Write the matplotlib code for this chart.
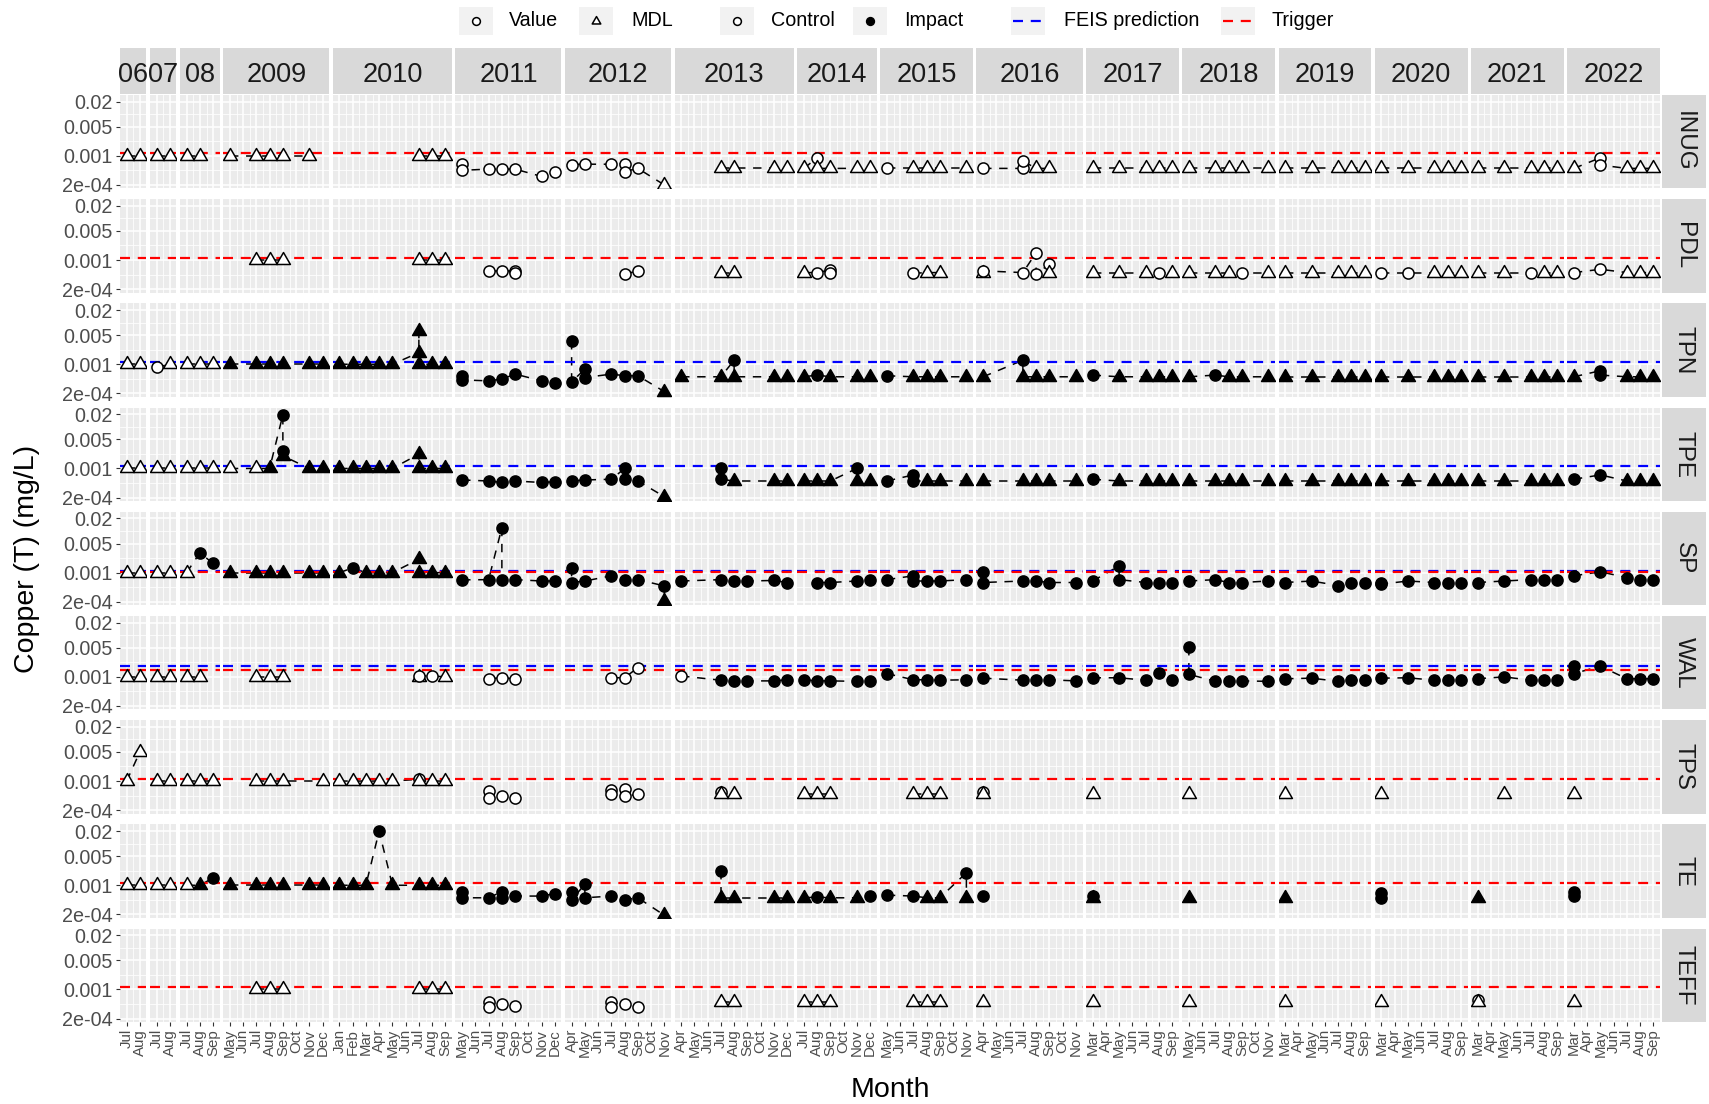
import matplotlib
matplotlib.use("Agg")
import matplotlib.pyplot as plt
from matplotlib.path import Path
from matplotlib.patches import Rectangle
from matplotlib.ticker import FixedLocator, NullFormatter
import numpy as np

plt.rcParams['font.family'] = ['Liberation Sans', 'DejaVu Sans']

# ---------------- data ----------------
YEARS = ["06", "07", "08", "2009", "2010", "2011", "2012", "2013", "2014",
         "2015", "2016", "2017", "2018", "2019", "2020", "2021", "2022"]
YEAR_MONTHS = [
    ["Jul", "Aug"], ["Jul", "Aug"], ["Jul", "Aug", "Sep"],
    ["May", "Jun", "Jul", "Aug", "Sep", "Oct", "Nov", "Dec"],
    ["Jan", "Feb", "Mar", "Apr", "May", "Jun", "Jul", "Aug", "Sep"],
    ["May", "Jun", "Jul", "Aug", "Sep", "Oct", "Nov", "Dec"],
    ["Apr", "May", "Jun", "Jul", "Aug", "Sep", "Oct", "Nov"],
    ["Apr", "May", "Jun", "Jul", "Aug", "Sep", "Oct", "Nov", "Dec"],
    ["Jul", "Aug", "Sep", "Oct", "Nov", "Dec"],
    ["May", "Jun", "Jul", "Aug", "Sep", "Oct", "Nov"],
    ["Apr", "May", "Jun", "Jul", "Aug", "Sep", "Oct", "Nov"],
    ["Mar", "Apr", "May", "Jun", "Jul", "Aug", "Sep"],
    ["May", "Jun", "Jul", "Aug", "Sep", "Oct", "Nov"],
    ["Mar", "Apr", "May", "Jun", "Jul", "Aug", "Sep"],
    ["Mar", "Apr", "May", "Jun", "Jul", "Aug", "Sep"],
    ["Mar", "Apr", "May", "Jun", "Jul", "Aug", "Sep"],
    ["Mar", "Apr", "May", "Jun", "Jul", "Aug", "Sep"],
]
STATIONS = ["INUG", "PDL", "TPN", "TPE", "SP", "WAL", "TPS", "TE", "TEFF"]
Y_TICKS = [2e-4, 1e-3, 5e-3, 2e-2]
Y_TICK_LABELS = ["2e-04", "0.001", "0.005", "0.02"]
FEIS = {"TPN": 0.00113, "TPE": 0.00113, "SP": 0.00112, "WAL": 0.00184}
TRIGGER = {"INUG": 0.00115, "PDL": 0.00115, "SP": 0.00104, "WAL": 0.00145,
           "TPS": 0.00115, "TE": 0.00115, "TEFF": 0.00115}
# first sample (year, month) from which a station is an Impact site
IMPACT_FROM = {"TPN": ("2009", "May"), "TPE": ("2009", "Aug"), "SP": ("08", "Aug"),
               "WAL": ("2013", "Jul"), "TE": ("08", "Aug")}

INUG = [
    ("06", "Jul", 1e-3, "M"), ("06", "Aug", 1e-3, "M"),
    ("07", "Jul", 1e-3, "M"), ("07", "Aug", 1e-3, "M"),
    ("08", "Jul", 1e-3, "M"), ("08", "Aug", 1e-3, "M"),
    ("2009", "May", 1e-3, "M"), ("2009", "Jul", 1e-3, "M"), ("2009", "Aug", 1e-3, "M"), ("2009", "Sep", 1e-3, "M"), ("2009", "Nov", 1e-3, "M"),
    ("2010", "Jul", 1e-3, "M"), ("2010", "Aug", 1e-3, "M"), ("2010", "Sep", 1e-3, "M"),
    ("2011", "May", 6.5e-4, "V"), ("2011", "May", 4.5e-4, "V"), ("2011", "Jul", 4.8e-4, "V"), ("2011", "Aug", 4.8e-4, "V"), ("2011", "Sep", 4.8e-4, "V"), ("2011", "Nov", 3.2e-4, "V"), ("2011", "Dec", 4.0e-4, "V"),
    ("2012", "Apr", 6.2e-4, "V"), ("2012", "May", 6.3e-4, "V"), ("2012", "Jul", 6.3e-4, "V"), ("2012", "Aug", 6.5e-4, "V"), ("2012", "Aug", 4.2e-4, "V"), ("2012", "Sep", 5.0e-4, "V"), ("2012", "Nov", 2.0e-4, "M"),
    ("2013", "Jul", 5e-4, "M"), ("2013", "Aug", 5e-4, "M"), ("2013", "Nov", 5e-4, "M"), ("2013", "Dec", 5e-4, "M"),
    ("2014", "Jul", 5e-4, "M"), ("2014", "Aug", 9e-4, "V"), ("2014", "Aug", 5e-4, "M"), ("2014", "Sep", 5e-4, "M"), ("2014", "Nov", 5e-4, "M"), ("2014", "Dec", 5e-4, "M"),
    ("2015", "May", 5e-4, "V"), ("2015", "Jul", 5e-4, "M"), ("2015", "Aug", 5e-4, "M"), ("2015", "Sep", 5e-4, "M"), ("2015", "Nov", 5e-4, "M"),
    ("2016", "Apr", 5e-4, "V"), ("2016", "Jul", 5e-4, "V"), ("2016", "Jul", 7.5e-4, "V"), ("2016", "Aug", 5e-4, "M"), ("2016", "Sep", 5e-4, "M"),
    ("2017", "Mar", 5e-4, "M"), ("2017", "May", 5e-4, "M"), ("2017", "Jul", 5e-4, "M"), ("2017", "Aug", 5e-4, "M"), ("2017", "Sep", 5e-4, "M"),
    ("2018", "May", 5e-4, "M"), ("2018", "Jul", 5e-4, "M"), ("2018", "Aug", 5e-4, "M"), ("2018", "Sep", 5e-4, "M"), ("2018", "Nov", 5e-4, "M"),
    ("2019", "Mar", 5e-4, "M"), ("2019", "May", 5e-4, "M"), ("2019", "Jul", 5e-4, "M"), ("2019", "Aug", 5e-4, "M"), ("2019", "Sep", 5e-4, "M"),
    ("2020", "Mar", 5e-4, "M"), ("2020", "May", 5e-4, "M"), ("2020", "Jul", 5e-4, "M"), ("2020", "Aug", 5e-4, "M"), ("2020", "Sep", 5e-4, "M"),
    ("2021", "Mar", 5e-4, "M"), ("2021", "May", 5e-4, "M"), ("2021", "Jul", 5e-4, "M"), ("2021", "Aug", 5e-4, "M"), ("2021", "Sep", 5e-4, "M"),
    ("2022", "Mar", 5e-4, "M"), ("2022", "May", 9e-4, "V"), ("2022", "May", 6e-4, "V"), ("2022", "Jul", 5e-4, "M"), ("2022", "Aug", 5e-4, "M"), ("2022", "Sep", 5e-4, "M"),
]

PDL = [
    ("2009", "Jul", 1e-3, "M"), ("2009", "Aug", 1e-3, "M"), ("2009", "Sep", 1e-3, "M"),
    ("2010", "Jul", 1e-3, "M"), ("2010", "Aug", 1e-3, "M"), ("2010", "Sep", 1e-3, "M"),
    ("2011", "Jul", 5.5e-4, "V"), ("2011", "Aug", 5.5e-4, "V"), ("2011", "Sep", 5.5e-4, "V"), ("2011", "Sep", 4.8e-4, "V"),
    ("2012", "Aug", 4.6e-4, "V"), ("2012", "Sep", 5.5e-4, "V"),
    ("2013", "Jul", 5e-4, "M"), ("2013", "Aug", 5e-4, "M"),
    ("2014", "Jul", 5e-4, "M"), ("2014", "Aug", 5e-4, "V"), ("2014", "Sep", 5.8e-4, "V"), ("2014", "Sep", 5.0e-4, "V"),
    ("2015", "Jul", 4.8e-4, "V"), ("2015", "Aug", 5e-4, "M"), ("2015", "Sep", 5e-4, "M"),
    ("2016", "Apr", 5e-4, "M"), ("2016", "Apr", 5.5e-4, "V"), ("2016", "Jul", 5e-4, "V"), ("2016", "Aug", 1.5e-3, "V"), ("2016", "Aug", 4.6e-4, "V"), ("2016", "Sep", 8e-4, "V"), ("2016", "Sep", 5e-4, "M"),
    ("2017", "Mar", 5e-4, "M"), ("2017", "May", 5e-4, "M"), ("2017", "Jul", 5e-4, "M"), ("2017", "Aug", 5e-4, "V"), ("2017", "Sep", 5e-4, "M"),
    ("2018", "May", 5e-4, "M"), ("2018", "Jul", 5e-4, "M"), ("2018", "Aug", 5e-4, "M"), ("2018", "Sep", 5e-4, "V"), ("2018", "Nov", 5e-4, "M"),
    ("2019", "Mar", 5e-4, "M"), ("2019", "May", 5e-4, "M"), ("2019", "Jul", 5e-4, "M"), ("2019", "Aug", 5e-4, "M"), ("2019", "Sep", 5e-4, "M"),
    ("2020", "Mar", 5e-4, "V"), ("2020", "May", 5e-4, "V"), ("2020", "Jul", 5e-4, "M"), ("2020", "Aug", 5e-4, "M"), ("2020", "Sep", 5e-4, "M"),
    ("2021", "Mar", 5e-4, "M"), ("2021", "May", 5e-4, "M"), ("2021", "Jul", 5e-4, "V"), ("2021", "Aug", 5e-4, "M"), ("2021", "Sep", 5e-4, "M"),
    ("2022", "Mar", 5e-4, "V"), ("2022", "May", 6e-4, "V"), ("2022", "Jul", 5e-4, "M"), ("2022", "Aug", 5e-4, "M"), ("2022", "Sep", 5e-4, "M"),
]

TPN = [
    ("06", "Jul", 1e-3, "M"), ("06", "Aug", 1e-3, "M"),
    ("07", "Jul", 8.5e-4, "V"), ("07", "Aug", 1e-3, "M"),
    ("08", "Jul", 1e-3, "M"), ("08", "Aug", 1e-3, "M"), ("08", "Sep", 1e-3, "M"),
    ("2009", "May", 1e-3, "M"), ("2009", "Jul", 1e-3, "M"), ("2009", "Aug", 1e-3, "M"), ("2009", "Sep", 1e-3, "M"), ("2009", "Nov", 1e-3, "M"), ("2009", "Dec", 1e-3, "M"),
    ("2010", "Jan", 1e-3, "M"), ("2010", "Feb", 1e-3, "M"), ("2010", "Mar", 1e-3, "M"), ("2010", "Apr", 1e-3, "M"), ("2010", "May", 1e-3, "M"), ("2010", "Jul", 1.9e-3, "M"), ("2010", "Jul", 6.3e-3, "M"), ("2010", "Jul", 1e-3, "M"), ("2010", "Aug", 1e-3, "M"), ("2010", "Sep", 1e-3, "M"),
    ("2011", "May", 5.3e-4, "V"), ("2011", "May", 4.2e-4, "V"), ("2011", "Jul", 4.0e-4, "V"), ("2011", "Aug", 4.4e-4, "V"), ("2011", "Sep", 5.8e-4, "V"), ("2011", "Nov", 4.0e-4, "V"), ("2011", "Dec", 3.5e-4, "V"),
    ("2012", "Apr", 3.6e-3, "V"), ("2012", "Apr", 3.8e-4, "V"), ("2012", "May", 7.6e-4, "V"), ("2012", "May", 4.8e-4, "V"), ("2012", "Jul", 5.8e-4, "V"), ("2012", "Aug", 5.3e-4, "V"), ("2012", "Sep", 5.3e-4, "V"), ("2012", "Nov", 2.2e-4, "M"),
    ("2013", "Apr", 5e-4, "M"), ("2013", "Jul", 5e-4, "M"), ("2013", "Aug", 1.25e-3, "V"), ("2013", "Aug", 5e-4, "M"), ("2013", "Nov", 5e-4, "M"), ("2013", "Dec", 5e-4, "M"),
    ("2014", "Jul", 5e-4, "M"), ("2014", "Aug", 5.5e-4, "V"), ("2014", "Sep", 5e-4, "M"), ("2014", "Nov", 5e-4, "M"), ("2014", "Dec", 5e-4, "M"),
    ("2015", "May", 5.3e-4, "V"), ("2015", "Jul", 5e-4, "M"), ("2015", "Aug", 5e-4, "M"), ("2015", "Sep", 5e-4, "M"), ("2015", "Nov", 5e-4, "M"),
    ("2016", "Apr", 5e-4, "M"), ("2016", "Jul", 1.25e-3, "V"), ("2016", "Jul", 5e-4, "M"), ("2016", "Aug", 5e-4, "M"), ("2016", "Sep", 5e-4, "M"), ("2016", "Nov", 5e-4, "M"),
    ("2017", "Mar", 5.5e-4, "V"), ("2017", "May", 5e-4, "M"), ("2017", "Jul", 5e-4, "M"), ("2017", "Aug", 5e-4, "M"), ("2017", "Sep", 5e-4, "M"),
    ("2018", "May", 5e-4, "M"), ("2018", "Jul", 5.5e-4, "V"), ("2018", "Aug", 5e-4, "M"), ("2018", "Sep", 5e-4, "M"), ("2018", "Nov", 5e-4, "M"),
    ("2019", "Mar", 5e-4, "M"), ("2019", "May", 5e-4, "M"), ("2019", "Jul", 5e-4, "M"), ("2019", "Aug", 5e-4, "M"), ("2019", "Sep", 5e-4, "M"),
    ("2020", "Mar", 5e-4, "M"), ("2020", "May", 5e-4, "M"), ("2020", "Jul", 5e-4, "M"), ("2020", "Aug", 5e-4, "M"), ("2020", "Sep", 5e-4, "M"),
    ("2021", "Mar", 5e-4, "M"), ("2021", "May", 5e-4, "M"), ("2021", "Jul", 5e-4, "M"), ("2021", "Aug", 5e-4, "M"), ("2021", "Sep", 5e-4, "M"),
    ("2022", "Mar", 5e-4, "M"), ("2022", "May", 7e-4, "V"), ("2022", "May", 5.5e-4, "V"), ("2022", "Jul", 5e-4, "M"), ("2022", "Aug", 5e-4, "M"), ("2022", "Sep", 5e-4, "M"),
]

TPE = [
    ("06", "Jul", 1e-3, "M"), ("06", "Aug", 1e-3, "M"),
    ("07", "Jul", 1e-3, "M"), ("07", "Aug", 1e-3, "M"),
    ("08", "Jul", 1e-3, "M"), ("08", "Aug", 1e-3, "M"), ("08", "Sep", 1e-3, "M"),
    ("2009", "May", 1e-3, "M"), ("2009", "Jul", 1e-3, "M"), ("2009", "Aug", 1e-3, "M"), ("2009", "Sep", 1.94e-2, "V"), ("2009", "Sep", 2.6e-3, "V"), ("2009", "Sep", 2.0e-3, "M"), ("2009", "Nov", 1e-3, "M"), ("2009", "Dec", 1e-3, "M"),
    ("2010", "Jan", 1e-3, "M"), ("2010", "Feb", 1e-3, "M"), ("2010", "Mar", 1e-3, "M"), ("2010", "Apr", 1e-3, "M"), ("2010", "May", 1e-3, "M"), ("2010", "Jul", 2.2e-3, "M"), ("2010", "Jul", 1e-3, "M"), ("2010", "Aug", 1e-3, "M"), ("2010", "Sep", 1e-3, "M"),
    ("2011", "May", 5.3e-4, "V"), ("2011", "Jul", 5.0e-4, "V"), ("2011", "Aug", 4.6e-4, "V"), ("2011", "Sep", 5.0e-4, "V"), ("2011", "Nov", 4.6e-4, "V"), ("2011", "Dec", 4.8e-4, "V"),
    ("2012", "Apr", 5.0e-4, "V"), ("2012", "May", 5.3e-4, "V"), ("2012", "Jul", 5.5e-4, "V"), ("2012", "Aug", 1.0e-3, "V"), ("2012", "Aug", 5.5e-4, "V"), ("2012", "Sep", 5.0e-4, "V"), ("2012", "Nov", 2.1e-4, "M"),
    ("2013", "Jul", 1.0e-3, "V"), ("2013", "Jul", 5.5e-4, "V"), ("2013", "Aug", 5e-4, "M"), ("2013", "Nov", 5e-4, "M"), ("2013", "Dec", 5e-4, "M"),
    ("2014", "Jul", 5e-4, "M"), ("2014", "Aug", 5e-4, "M"), ("2014", "Sep", 5e-4, "M"), ("2014", "Nov", 1.0e-3, "V"), ("2014", "Nov", 5e-4, "M"), ("2014", "Dec", 5e-4, "M"),
    ("2015", "May", 5.0e-4, "V"), ("2015", "Jul", 7.0e-4, "V"), ("2015", "Jul", 5.0e-4, "V"), ("2015", "Aug", 5e-4, "M"), ("2015", "Sep", 5e-4, "M"), ("2015", "Nov", 5e-4, "M"),
    ("2016", "Apr", 5e-4, "M"), ("2016", "Jul", 5e-4, "M"), ("2016", "Aug", 5e-4, "M"), ("2016", "Sep", 5e-4, "M"), ("2016", "Nov", 5e-4, "M"),
    ("2017", "Mar", 5.5e-4, "V"), ("2017", "May", 5e-4, "M"), ("2017", "Jul", 5e-4, "M"), ("2017", "Aug", 5e-4, "M"), ("2017", "Sep", 5e-4, "M"),
    ("2018", "May", 5e-4, "M"), ("2018", "Jul", 5e-4, "M"), ("2018", "Aug", 5e-4, "M"), ("2018", "Sep", 5e-4, "M"), ("2018", "Nov", 5e-4, "M"),
    ("2019", "Mar", 5e-4, "M"), ("2019", "May", 5e-4, "M"), ("2019", "Jul", 5e-4, "M"), ("2019", "Aug", 5e-4, "M"), ("2019", "Sep", 5e-4, "M"),
    ("2020", "Mar", 5e-4, "M"), ("2020", "May", 5e-4, "M"), ("2020", "Jul", 5e-4, "M"), ("2020", "Aug", 5e-4, "M"), ("2020", "Sep", 5e-4, "M"),
    ("2021", "Mar", 5e-4, "M"), ("2021", "May", 5e-4, "M"), ("2021", "Jul", 5e-4, "M"), ("2021", "Aug", 5e-4, "M"), ("2021", "Sep", 5e-4, "M"),
    ("2022", "Mar", 5.5e-4, "V"), ("2022", "May", 7.0e-4, "V"), ("2022", "Jul", 5e-4, "M"), ("2022", "Aug", 5e-4, "M"), ("2022", "Sep", 5e-4, "M"),
]

SP = [
    ("06", "Jul", 1e-3, "M"), ("06", "Aug", 1e-3, "M"),
    ("07", "Jul", 1e-3, "M"), ("07", "Aug", 1e-3, "M"),
    ("08", "Jul", 1e-3, "M"), ("08", "Aug", 3.0e-3, "V"), ("08", "Sep", 1.66e-3, "V"),
    ("2009", "May", 1e-3, "M"), ("2009", "Jul", 1e-3, "M"), ("2009", "Aug", 1e-3, "M"), ("2009", "Sep", 1e-3, "M"), ("2009", "Nov", 1e-3, "M"), ("2009", "Dec", 1e-3, "M"),
    ("2010", "Jan", 1e-3, "M"), ("2010", "Feb", 1.3e-3, "V"), ("2010", "Mar", 1e-3, "M"), ("2010", "Apr", 1e-3, "M"), ("2010", "May", 1e-3, "M"), ("2010", "Jul", 2.1e-3, "M"), ("2010", "Jul", 1e-3, "M"), ("2010", "Aug", 1e-3, "M"), ("2010", "Sep", 1e-3, "M"),
    ("2011", "May", 6.7e-4, "V"), ("2011", "Jul", 6.8e-4, "V"), ("2011", "Aug", 1.2e-2, "V"), ("2011", "Aug", 6.8e-4, "V"), ("2011", "Sep", 6.8e-4, "V"), ("2011", "Nov", 6.3e-4, "V"), ("2011", "Dec", 6.3e-4, "V"),
    ("2012", "Apr", 1.3e-3, "V"), ("2012", "Apr", 5.8e-4, "V"), ("2012", "May", 6.3e-4, "V"), ("2012", "Jul", 8.4e-4, "V"), ("2012", "Aug", 6.8e-4, "V"), ("2012", "Sep", 6.8e-4, "V"), ("2012", "Nov", 4.8e-4, "V"), ("2012", "Nov", 2.1e-4, "M"),
    ("2013", "Apr", 6.3e-4, "V"), ("2013", "Jul", 6.8e-4, "V"), ("2013", "Aug", 6.3e-4, "V"), ("2013", "Sep", 6.3e-4, "V"), ("2013", "Nov", 6.5e-4, "V"), ("2013", "Dec", 5.8e-4, "V"),
    ("2014", "Aug", 5.8e-4, "V"), ("2014", "Sep", 5.8e-4, "V"), ("2014", "Nov", 6.3e-4, "V"), ("2014", "Dec", 6.5e-4, "V"),
    ("2015", "May", 6.8e-4, "V"), ("2015", "Jul", 8.4e-4, "V"), ("2015", "Jul", 6.3e-4, "V"), ("2015", "Aug", 6.3e-4, "V"), ("2015", "Sep", 6.3e-4, "V"), ("2015", "Nov", 6.8e-4, "V"),
    ("2016", "Apr", 1.05e-3, "V"), ("2016", "Apr", 5.8e-4, "V"), ("2016", "Jul", 6.3e-4, "V"), ("2016", "Aug", 6.3e-4, "V"), ("2016", "Sep", 5.8e-4, "V"), ("2016", "Nov", 5.8e-4, "V"),
    ("2017", "Mar", 6.3e-4, "V"), ("2017", "May", 1.45e-3, "V"), ("2017", "May", 6.8e-4, "V"), ("2017", "Jul", 5.8e-4, "V"), ("2017", "Aug", 5.8e-4, "V"), ("2017", "Sep", 5.8e-4, "V"),
    ("2018", "May", 6.3e-4, "V"), ("2018", "Jul", 6.8e-4, "V"), ("2018", "Aug", 5.8e-4, "V"), ("2018", "Sep", 5.8e-4, "V"), ("2018", "Nov", 6.3e-4, "V"),
    ("2019", "Mar", 5.8e-4, "V"), ("2019", "May", 6.3e-4, "V"), ("2019", "Jul", 4.9e-4, "V"), ("2019", "Aug", 5.8e-4, "V"), ("2019", "Sep", 5.8e-4, "V"),
    ("2020", "Mar", 5.8e-4, "V"), ("2020", "Mar", 5.3e-4, "V"), ("2020", "May", 6.3e-4, "V"), ("2020", "Jul", 5.8e-4, "V"), ("2020", "Aug", 5.8e-4, "V"), ("2020", "Sep", 5.8e-4, "V"),
    ("2021", "Mar", 5.8e-4, "V"), ("2021", "May", 6.3e-4, "V"), ("2021", "Jul", 6.8e-4, "V"), ("2021", "Aug", 6.8e-4, "V"), ("2021", "Sep", 6.8e-4, "V"),
    ("2022", "Mar", 8.4e-4, "V"), ("2022", "May", 1.05e-3, "V"), ("2022", "Jul", 7.6e-4, "V"), ("2022", "Aug", 6.8e-4, "V"), ("2022", "Sep", 6.8e-4, "V"),
]

WAL = [
    ("06", "Jul", 1e-3, "M"), ("06", "Aug", 1e-3, "M"),
    ("07", "Jul", 1e-3, "M"), ("07", "Aug", 1e-3, "M"),
    ("08", "Jul", 1e-3, "M"), ("08", "Aug", 1e-3, "M"),
    ("2009", "Jul", 1e-3, "M"), ("2009", "Aug", 1e-3, "M"), ("2009", "Sep", 1e-3, "M"),
    ("2010", "Jul", 1e-3, "M"), ("2010", "Jul", 1.05e-3, "V"), ("2010", "Aug", 1.05e-3, "V"), ("2010", "Sep", 1e-3, "M"),
    ("2011", "Jul", 9.0e-4, "V"), ("2011", "Aug", 9.5e-4, "V"), ("2011", "Sep", 9.0e-4, "V"),
    ("2012", "Jul", 9.5e-4, "V"), ("2012", "Aug", 9.5e-4, "V"), ("2012", "Sep", 1.67e-3, "V"),
    ("2013", "Apr", 1.05e-3, "V"), ("2013", "Jul", 8.3e-4, "V"), ("2013", "Aug", 8.0e-4, "V"), ("2013", "Sep", 8.0e-4, "V"), ("2013", "Nov", 8.0e-4, "V"), ("2013", "Dec", 8.5e-4, "V"),
    ("2014", "Jul", 8.5e-4, "V"), ("2014", "Aug", 8.0e-4, "V"), ("2014", "Sep", 8.0e-4, "V"), ("2014", "Nov", 7.8e-4, "V"), ("2014", "Dec", 8.0e-4, "V"),
    ("2015", "May", 1.2e-3, "V"), ("2015", "Jul", 8.5e-4, "V"), ("2015", "Aug", 8.5e-4, "V"), ("2015", "Sep", 8.3e-4, "V"), ("2015", "Nov", 8.5e-4, "V"),
    ("2016", "Apr", 9.3e-4, "V"), ("2016", "Jul", 8.3e-4, "V"), ("2016", "Aug", 8.5e-4, "V"), ("2016", "Sep", 8.5e-4, "V"), ("2016", "Nov", 8.0e-4, "V"),
    ("2017", "Mar", 9.5e-4, "V"), ("2017", "May", 9.5e-4, "V"), ("2017", "Jul", 8.3e-4, "V"), ("2017", "Aug", 1.27e-3, "V"), ("2017", "Sep", 8.5e-4, "V"),
    ("2018", "May", 5.2e-3, "V"), ("2018", "May", 1.15e-3, "V"), ("2018", "Jul", 7.8e-4, "V"), ("2018", "Aug", 8.0e-4, "V"), ("2018", "Sep", 8.0e-4, "V"), ("2018", "Nov", 7.8e-4, "V"),
    ("2019", "Mar", 9.0e-4, "V"), ("2019", "May", 9.3e-4, "V"), ("2019", "Jul", 7.8e-4, "V"), ("2019", "Aug", 8.3e-4, "V"), ("2019", "Sep", 8.3e-4, "V"),
    ("2020", "Mar", 9.3e-4, "V"), ("2020", "May", 9.5e-4, "V"), ("2020", "Jul", 8.3e-4, "V"), ("2020", "Aug", 8.3e-4, "V"), ("2020", "Sep", 8.3e-4, "V"),
    ("2021", "Mar", 9.0e-4, "V"), ("2021", "May", 1.0e-3, "V"), ("2021", "Jul", 8.3e-4, "V"), ("2021", "Aug", 8.5e-4, "V"), ("2021", "Sep", 8.5e-4, "V"),
    ("2022", "Mar", 1.8e-3, "V"), ("2022", "Mar", 1.2e-3, "V"), ("2022", "May", 1.8e-3, "V"), ("2022", "Jul", 9.0e-4, "V"), ("2022", "Aug", 9.0e-4, "V"), ("2022", "Sep", 9.0e-4, "V"),
]

TPS = [
    ("06", "Jul", 1e-3, "M"), ("06", "Aug", 5e-3, "M"),
    ("07", "Jul", 1e-3, "M"), ("07", "Aug", 1e-3, "M"),
    ("08", "Jul", 1e-3, "M"), ("08", "Aug", 1e-3, "M"), ("08", "Sep", 1e-3, "M"),
    ("2009", "Jul", 1e-3, "M"), ("2009", "Aug", 1e-3, "M"), ("2009", "Sep", 1e-3, "M"), ("2009", "Dec", 1e-3, "M"),
    ("2010", "Jan", 1e-3, "M"), ("2010", "Feb", 1e-3, "M"), ("2010", "Mar", 1e-3, "M"), ("2010", "Apr", 1e-3, "M"), ("2010", "May", 1e-3, "M"), ("2010", "Jul", 1.1e-3, "V"), ("2010", "Jul", 1e-3, "M"), ("2010", "Aug", 1e-3, "M"), ("2010", "Sep", 1e-3, "M"),
    ("2011", "Jul", 5.8e-4, "V"), ("2011", "Jul", 4.0e-4, "V"), ("2011", "Aug", 4.4e-4, "V"), ("2011", "Sep", 4.0e-4, "V"),
    ("2012", "Jul", 6.0e-4, "V"), ("2012", "Jul", 5.0e-4, "V"), ("2012", "Aug", 6.6e-4, "V"), ("2012", "Aug", 4.4e-4, "V"), ("2012", "Sep", 4.8e-4, "V"),
    ("2013", "Jul", 5.5e-4, "V"), ("2013", "Jul", 5e-4, "M"), ("2013", "Aug", 5e-4, "M"),
    ("2014", "Jul", 5e-4, "M"), ("2014", "Aug", 5e-4, "M"), ("2014", "Sep", 5e-4, "M"),
    ("2015", "Jul", 5e-4, "M"), ("2015", "Aug", 5e-4, "M"), ("2015", "Sep", 5e-4, "M"),
    ("2016", "Apr", 5.5e-4, "V"), ("2016", "Apr", 5e-4, "M"),
    ("2017", "Mar", 5e-4, "M"), ("2018", "May", 5e-4, "M"), ("2019", "Mar", 5e-4, "M"),
    ("2020", "Mar", 5e-4, "M"), ("2021", "May", 5e-4, "M"), ("2022", "Mar", 5e-4, "M"),
]

TE = [
    ("06", "Jul", 1e-3, "M"), ("06", "Aug", 1e-3, "M"),
    ("07", "Jul", 1e-3, "M"), ("07", "Aug", 1e-3, "M"),
    ("08", "Jul", 1e-3, "M"), ("08", "Aug", 1e-3, "M"), ("08", "Sep", 1.5e-3, "V"),
    ("2009", "May", 1e-3, "M"), ("2009", "Jul", 1e-3, "M"), ("2009", "Aug", 1e-3, "M"), ("2009", "Sep", 1e-3, "M"), ("2009", "Nov", 1e-3, "M"), ("2009", "Dec", 1e-3, "M"),
    ("2010", "Jan", 1e-3, "M"), ("2010", "Feb", 1e-3, "M"), ("2010", "Mar", 1e-3, "M"), ("2010", "Apr", 2.0e-2, "V"), ("2010", "May", 1e-3, "M"), ("2010", "Jul", 1e-3, "M"), ("2010", "Aug", 1e-3, "M"), ("2010", "Sep", 1e-3, "M"),
    ("2011", "May", 6.7e-4, "V"), ("2011", "May", 5.0e-4, "V"), ("2011", "Jul", 5.0e-4, "V"), ("2011", "Aug", 7.0e-4, "V"), ("2011", "Aug", 5.0e-4, "V"), ("2011", "Sep", 5.5e-4, "V"), ("2011", "Nov", 5.5e-4, "V"), ("2011", "Dec", 6.3e-4, "V"),
    ("2012", "Apr", 6.7e-4, "V"), ("2012", "Apr", 4.5e-4, "V"), ("2012", "May", 1.05e-3, "V"), ("2012", "May", 5.0e-4, "V"), ("2012", "Jul", 5.5e-4, "V"), ("2012", "Aug", 4.5e-4, "V"), ("2012", "Sep", 5.0e-4, "V"), ("2012", "Nov", 1.9e-4, "M"),
    ("2013", "Jul", 2.2e-3, "V"), ("2013", "Jul", 5e-4, "M"), ("2013", "Aug", 5e-4, "M"), ("2013", "Nov", 5e-4, "M"), ("2013", "Dec", 5e-4, "M"),
    ("2014", "Jul", 5e-4, "M"), ("2014", "Aug", 5.2e-4, "V"), ("2014", "Sep", 5e-4, "M"), ("2014", "Nov", 5e-4, "M"), ("2014", "Dec", 5.5e-4, "V"),
    ("2015", "May", 5.8e-4, "V"), ("2015", "Jul", 5.5e-4, "V"), ("2015", "Aug", 5e-4, "M"), ("2015", "Sep", 5e-4, "M"), ("2015", "Nov", 2.0e-3, "V"), ("2015", "Nov", 5e-4, "M"),
    ("2016", "Apr", 5.5e-4, "V"),
    ("2017", "Mar", 5.5e-4, "V"), ("2017", "Mar", 5e-4, "M"),
    ("2018", "May", 5e-4, "M"), ("2019", "Mar", 5e-4, "M"),
    ("2020", "Mar", 6.5e-4, "V"), ("2020", "Mar", 5.0e-4, "V"),
    ("2021", "Mar", 5e-4, "M"),
    ("2022", "Mar", 7.0e-4, "V"), ("2022", "Mar", 5.5e-4, "V"),
]

TEFF = [
    ("2009", "Jul", 1e-3, "M"), ("2009", "Aug", 1e-3, "M"), ("2009", "Sep", 1e-3, "M"),
    ("2010", "Jul", 1e-3, "M"), ("2010", "Aug", 1e-3, "M"), ("2010", "Sep", 1e-3, "M"),
    ("2011", "Jul", 5.0e-4, "V"), ("2011", "Jul", 3.7e-4, "V"), ("2011", "Aug", 4.4e-4, "V"), ("2011", "Sep", 3.9e-4, "V"),
    ("2012", "Jul", 5.0e-4, "V"), ("2012", "Jul", 3.7e-4, "V"), ("2012", "Aug", 4.4e-4, "V"), ("2012", "Sep", 3.7e-4, "V"),
    ("2013", "Jul", 5e-4, "M"), ("2013", "Aug", 5e-4, "M"),
    ("2014", "Jul", 5e-4, "M"), ("2014", "Aug", 5e-4, "M"), ("2014", "Sep", 5e-4, "M"),
    ("2015", "Jul", 5e-4, "M"), ("2015", "Aug", 5e-4, "M"), ("2015", "Sep", 5e-4, "M"),
    ("2016", "Apr", 5e-4, "M"), ("2017", "Mar", 5e-4, "M"), ("2018", "May", 5e-4, "M"),
    ("2019", "Mar", 5e-4, "M"), ("2020", "Mar", 5e-4, "M"),
    ("2021", "Mar", 5.5e-4, "V"), ("2021", "Mar", 5e-4, "M"),
    ("2022", "Mar", 5e-4, "M"),
]

STATION_DATA = {"INUG": INUG, "PDL": PDL, "TPN": TPN, "TPE": TPE, "SP": SP,
                "WAL": WAL, "TPS": TPS, "TE": TE, "TEFF": TEFF}

# ---------------- layout (pixels of the 1709x1104 canvas) ----------------
W, H = 1709, 1104
LEFT, RIGHT, GAP = 120, 1660, 3.5
TOP, ROW_H, ROW_P = 95, 93.3, 104.2
STRIP_TOP = 48
YLIM = (10 ** -3.779, 10 ** -1.539)
Y_MINOR = [np.sqrt(Y_TICKS[i] * Y_TICKS[i + 1]) for i in range(len(Y_TICKS) - 1)]

BG = "#EBEBEB"
STRIP_BG = "#D9D9D9"
TXT = "#4D4D4D"

fig = plt.figure(figsize=(W / 100, H / 100), dpi=100)


def px_axes(x0, y0, w, h):
    return fig.add_axes([x0 / W, 1 - (y0 + h) / H, w / W, h / H])


nmon = [len(m) for m in YEAR_MONTHS]
unit = (RIGHT - LEFT - GAP * (len(YEARS) - 1)) / sum(nmon)
col_x = []
xx = LEFT
for n in nmon:
    col_x.append(xx)
    xx += n * unit + GAP

TRI = Path([(-1, -0.577), (1, -0.577), (0, 1.155), (-1, -0.577)],
           [Path.MOVETO, Path.LINETO, Path.LINETO, Path.CLOSEPOLY])
CIRCLE_MS, TRI_MS = 8.0, 11.5


def order_key(y, m):
    yi = YEARS.index(y)
    return (yi, YEAR_MONTHS[yi].index(m))


def marker_style(kind, impact):
    face = "black" if impact else "white"
    if kind == "M":
        return dict(marker=TRI, ms=TRI_MS, mfc=face, mec="black", mew=1.1)
    return dict(marker="o", ms=CIRCLE_MS, mfc=face, mec="black", mew=1.1)


nrows = len(STATIONS)
for r, st in enumerate(STATIONS):
    data = STATION_DATA[st]
    start = IMPACT_FROM.get(st)
    for c, yr in enumerate(YEARS):
        n = nmon[c]
        ax = px_axes(col_x[c], TOP + r * ROW_P, n * unit, ROW_H)
        ax.set_facecolor(BG)
        for s in ax.spines.values():
            s.set_visible(False)
        ax.set_yscale("log")
        ax.set_ylim(*YLIM)
        ax.set_xlim(0.5, n + 0.5)
        ax.yaxis.set_major_locator(FixedLocator(Y_TICKS))
        ax.yaxis.set_minor_locator(FixedLocator(Y_MINOR))
        ax.yaxis.set_minor_formatter(NullFormatter())
        ax.set_xticks(np.arange(1, n + 1))
        ax.set_xticks(np.arange(1.5, n, 1.0), minor=True)
        ax.grid(which="major", color="white", lw=1.1)
        ax.grid(which="minor", color="white", lw=0.55)
        ax.set_axisbelow(True)
        ax.tick_params(which="minor", length=0)
        if c == 0:
            ax.set_yticklabels(Y_TICK_LABELS)
            ax.tick_params(axis="y", which="major", length=3.2, width=0.8,
                           color="#333333", labelsize=14.2, labelcolor=TXT, pad=2)
        else:
            ax.tick_params(axis="y", which="major", length=0, labelleft=False)
        if r == nrows - 1:
            ax.set_xticklabels(YEAR_MONTHS[c], rotation=90)
            ax.tick_params(axis="x", which="major", length=3.2, width=0.8,
                           color="#333333", labelsize=10.8, labelcolor=TXT, pad=2)
        else:
            ax.tick_params(axis="x", which="major", length=0, labelbottom=False)

        # reference lines
        if st in FEIS:
            ax.axhline(FEIS[st], color="#0000FF", lw=1.6, ls=(0, (4.5, 3.5)), zorder=3)
        if st in TRIGGER:
            ax.axhline(TRIGGER[st], color="#FF0000", lw=1.6, ls=(0, (4.5, 3.5)), zorder=3)

        pts = [p for p in data if p[0] == yr]
        if not pts:
            continue
        xv, yv = [], []
        for p in sorted(pts, key=lambda p: YEAR_MONTHS[c].index(p[1])):
            xv.append(YEAR_MONTHS[c].index(p[1]) + 1)
            yv.append(p[2])
        ax.plot(xv, yv, color="black", lw=1.1, ls=(0, (5.5, 5.0)), zorder=2)
        for p in pts:
            impact = start is not None and order_key(p[0], p[1]) >= order_key(*start)
            ax.plot([YEAR_MONTHS[c].index(p[1]) + 1], [p[2]], ls="none",
                    zorder=4, **marker_style(p[3], impact))

# top strips
for c, yr in enumerate(YEARS):
    sax = px_axes(col_x[c], STRIP_TOP, nmon[c] * unit, TOP - STRIP_TOP - 1)
    sax.set_facecolor(STRIP_BG)
    sax.set_xticks([]); sax.set_yticks([])
    for s in sax.spines.values():
        s.set_visible(False)
    sax.text(0.5, 0.42, yr, ha="center", va="center", fontsize=19.5,
             color="#1A1A1A", transform=sax.transAxes)

# right strips
for r, st in enumerate(STATIONS):
    sax = px_axes(RIGHT + 2, TOP + r * ROW_P, 44, ROW_H)
    sax.set_facecolor(STRIP_BG)
    sax.set_xticks([]); sax.set_yticks([])
    for s in sax.spines.values():
        s.set_visible(False)
    sax.text(0.5, 0.5, st, ha="center", va="center", fontsize=17.5, rotation=-90,
             color="#1A1A1A", transform=sax.transAxes)

# axis titles
fig.text((LEFT + RIGHT) / 2 / W, 1 - 1090 / H, "Month", ha="center", va="center",
         fontsize=20.5, color="black")
fig.text(27 / W, 1 - (TOP + (nrows * ROW_P - (ROW_P - ROW_H)) / 2) / H,
         "Copper (T) (mg/L)", ha="center", va="center", rotation=90,
         fontsize=20.5, color="black")

# legend (drawn in a pixel-coordinate overlay)
lax = fig.add_axes([0, 0, 1, 1], facecolor="none")
lax.set_xlim(0, W); lax.set_ylim(H, 0); lax.axis("off")
LEG_Y = 21
LEGEND_ITEMS = [
    ("Value", "shape", "V", 0, 476, 509),
    ("MDL", "shape", "M", 0, 596, 631),
    ("Control", "fill", "V", 0, 737, 771),
    ("Impact", "fill", "V", 1, 870, 904),
    ("FEIS prediction", "line", "#0000FF", 0, 1028, 1064),
    ("Trigger", "line", "#FF0000", 0, 1238, 1272),
]
for label, kind, a, b, kx, tx in LEGEND_ITEMS:
    lax.add_patch(Rectangle((kx - 17, LEG_Y - 14), 34, 28, facecolor="#F2F2F2",
                            edgecolor="none"))
    if kind == "line":
        lax.plot([kx - 15, kx + 15], [LEG_Y, LEG_Y], color=a, lw=1.6,
                 ls=(0, (4.5, 3.5)))
    elif kind == "shape":
        st = marker_style(a, 0)
        st["ms"] = st["ms"] * (0.62 if a == "M" else 0.7)
        lax.plot([kx], [LEG_Y], ls="none", **st)
    else:
        st = marker_style("V", b)
        st["ms"] = st["ms"] * 0.7
        lax.plot([kx], [LEG_Y], ls="none", **st)
    lax.text(tx, LEG_Y, label, ha="left", va="center", fontsize=14.2, color="black")

fig.savefig("out.png", dpi=100)
